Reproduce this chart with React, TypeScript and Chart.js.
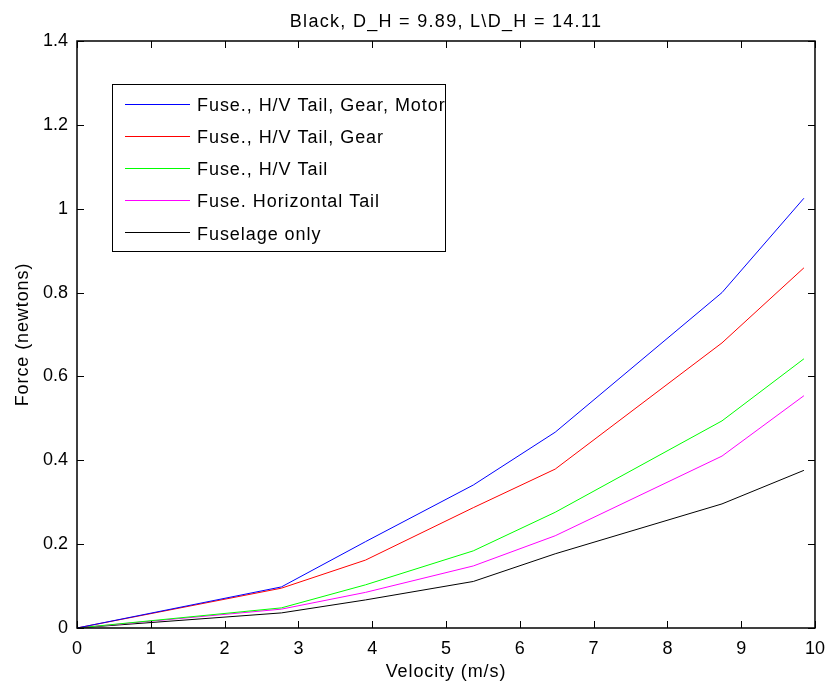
import React, { useEffect, useRef } from "react";
import { Chart, registerables } from "chart.js";

Chart.register(...registerables);

const chartTitle = "Black, D_H = 9.89, L\\D_H = 14.11";
const xAxisLabel = "Velocity (m/s)";
const yAxisLabel = "Force (newtons)";

const velocity = [0, 2.77, 3.91, 5.37, 6.48, 8.74, 9.85];
const motorForce = [0, 0.098, 0.206, 0.341, 0.467, 0.8, 1.025];
const gearForce = [0, 0.095, 0.162, 0.287, 0.379, 0.68, 0.859];
const hvTailForce = [0, 0.048, 0.103, 0.184, 0.276, 0.494, 0.642];
const hTailForce = [0, 0.045, 0.085, 0.148, 0.22, 0.41, 0.554];
const fuselageForce = [0, 0.036, 0.067, 0.111, 0.177, 0.296, 0.376];

const seriesLabels = [
  "Fuse., H/V Tail, Gear, Motor",
  "Fuse., H/V Tail, Gear",
  "Fuse., H/V Tail",
  "Fuse. Horizontal Tail",
  "Fuselage only",
];
const seriesColors = ["#0000ff", "#ff0000", "#00ff00", "#ff00ff", "#000000"];
const seriesValues = [motorForce, gearForce, hvTailForce, hTailForce, fuselageForce];

const xTicks = [0, 1, 2, 3, 4, 5, 6, 7, 8, 9, 10];
const yTicks = [0, 0.2, 0.4, 0.6, 0.8, 1, 1.2, 1.4];

const FONT = "'Liberation Sans', Arial, sans-serif";

function spacedText(ctx: any, text: string, x: number, y: number, spacing: number, align: string) {
  ctx.letterSpacing = `${spacing}px`;
  const w = ctx.measureText(text).width;
  let sx = x;
  if (align === "center") sx = x - w / 2;
  ctx.textAlign = "left";
  ctx.fillText(text, sx, y);
  ctx.letterSpacing = "0px";
}

const boxPlugin = {
  id: "matlabBox",
  afterDatasetsDraw(chart: any) {
    const { ctx, chartArea } = chart;
    const { left, right, top, bottom } = chartArea;
    const xs = chart.scales.x;
    const ys = chart.scales.y;
    ctx.save();
    ctx.strokeStyle = "#000";
    ctx.lineWidth = 1;
    const tl = 7;
    ctx.beginPath();
    xTicks.forEach((t) => {
      const px = Math.round(xs.getPixelForValue(t)) + 0.5;
      ctx.moveTo(px, bottom);
      ctx.lineTo(px, bottom - tl);
      ctx.moveTo(px, top);
      ctx.lineTo(px, top + tl);
    });
    yTicks.forEach((t) => {
      const py = Math.round(ys.getPixelForValue(t)) + 0.5;
      ctx.moveTo(left, py);
      ctx.lineTo(left + tl, py);
      ctx.moveTo(right, py);
      ctx.lineTo(right - tl, py);
    });
    ctx.stroke();
    ctx.lineWidth = 1.5;
    ctx.strokeRect(left, top, right - left, bottom - top);

    // legend box and sample lines
    const lx = 112, ly = 84, lw = 333, lh = 167;
    ctx.fillStyle = "#fff";
    ctx.fillRect(lx, ly, lw, lh);
    ctx.lineWidth = 1;
    ctx.strokeStyle = "#000";
    ctx.strokeRect(lx + 0.5, ly + 0.5, lw, lh);
    seriesLabels.forEach((_label, i) => {
      const y = Math.round(103.6 + i * 32.1);
      ctx.fillStyle = seriesColors[i];
      ctx.fillRect(125, y, 65, 1);
    });

    ctx.fillStyle = "#000";
    ctx.font = `18px ${FONT}`;
    ctx.textBaseline = "alphabetic";
    seriesLabels.forEach((label, i) => {
      const y = 103.3 + i * 32.2;
      spacedText(ctx, label, 197, y + 7.4, 0.95, "left");
    });
    spacedText(ctx, chartTitle, (left + right) / 2, 27, 1.3, "center");
    spacedText(ctx, xAxisLabel, (left + right) / 2, 677, 0.9, "center");
    ctx.save();
    ctx.translate(28, (top + bottom) / 2);
    ctx.rotate(-Math.PI / 2);
    spacedText(ctx, yAxisLabel, 0, 0, 0.9, "center");
    ctx.restore();
    ctx.restore();
  },
};

export default function App() {
  const ref = useRef<HTMLCanvasElement | null>(null);
  useEffect(() => {
    if (!ref.current) return;
    const chart = new Chart(ref.current, {
      type: "line",
      data: {
        datasets: seriesLabels.map((label, i) => ({
          label,
          data: velocity.map((v, j) => ({ x: v, y: seriesValues[i][j] })),
          borderColor: seriesColors[i],
          backgroundColor: seriesColors[i],
          borderWidth: 1,
          pointRadius: 0,
          tension: 0,
          fill: false,
        })),
      },
      options: {
        responsive: false,
        animation: false,
        layout: { padding: { top: 41, right: 14, left: 0, bottom: 0 } },
        plugins: { legend: { display: false }, title: { display: false }, tooltip: { enabled: false } },
        scales: {
          x: {
            type: "linear",
            min: 0,
            max: 10,
            afterBuildTicks: (s: any) => {
              s.ticks = xTicks.map((v) => ({ value: v }));
            },
            afterFit: (s: any) => {
              s.height = 59;
            },
            grid: { display: false, drawTicks: false },
            border: { display: false },
            ticks: {
              color: "#000",
              padding: 10,
              maxRotation: 0,
              font: { family: FONT, size: 18 },
              callback: (v: any) => String(v),
            },
          },
          y: {
            type: "linear",
            min: 0,
            max: 1.4,
            afterBuildTicks: (s: any) => {
              s.ticks = yTicks.map((v) => ({ value: v }));
            },
            afterFit: (s: any) => {
              s.width = 77;
            },
            grid: { display: false, drawTicks: false },
            border: { display: false },
            ticks: {
              color: "#000",
              padding: 9,
              font: { family: FONT, size: 18 },
              callback: (v: any) => String(Math.round(v * 10) / 10),
            },
          },
        },
      },
      plugins: [boxPlugin],
    });
    return () => chart.destroy();
  }, []);
  return (
    <div style={{ position: "absolute", left: 0, top: 0, width: 835, height: 687, background: "#fff" }}>
      <canvas ref={ref} width={835} height={687} style={{ display: "block" }} />
    </div>
  );
}
